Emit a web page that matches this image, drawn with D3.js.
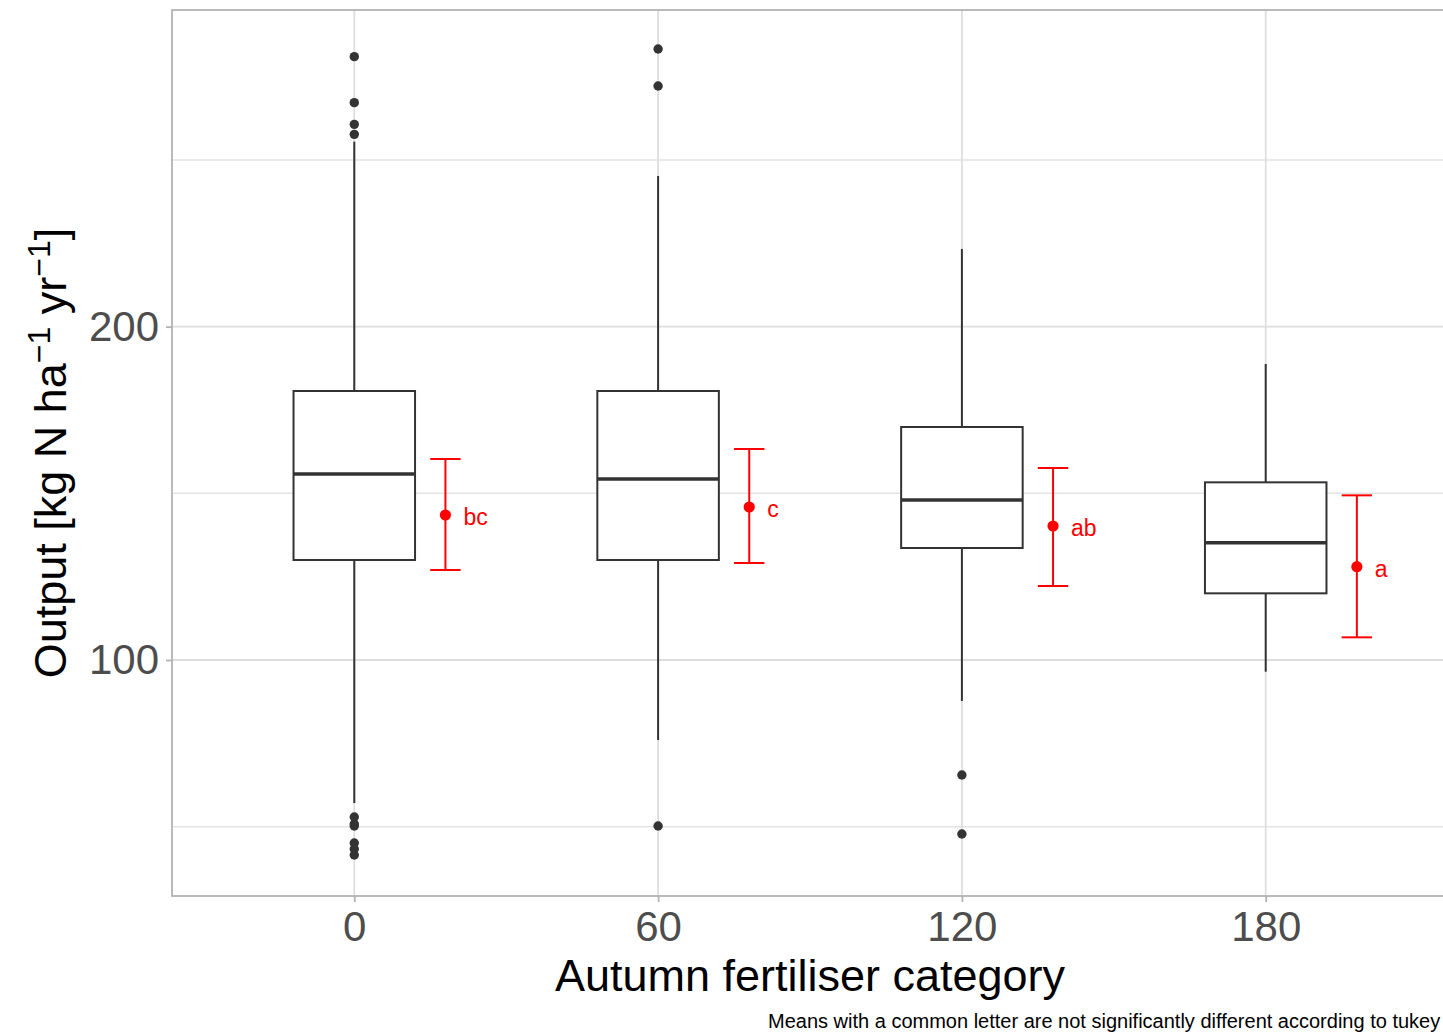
<!DOCTYPE html>
<html lang="en">
<head>
    <meta charset="UTF-8">
    <title>Autumn fertiliser boxplot</title>
    <script src="https://d3js.org/d3.v7.min.js"></script>
    <style>
        body { margin: 0; background: #fff; font-family: Arial, "Liberation Sans", sans-serif; overflow: hidden; }
    </style>
</head>
<body>
    <div id="chart"></div>
    <script>
        // Data
        const categories = ["0", "60", "120", "180"];
        const q1 = [130.0, 130.0, 133.6, 120.0];
        const median = [155.8, 154.3, 148.0, 135.2];
        const q3 = [180.7, 180.7, 169.9, 153.3];
        const whiskerLow = [57.1, 76.0, 87.7, 96.5];
        const whiskerHigh = [255.5, 245.2, 223.3, 188.8];
        const outliers = [
            [281.0, 267.2, 260.7, 257.7, 52.9, 50.8, 50.2, 45.1, 43.3, 41.5],
            [283.3, 272.2, 50.2],
            [65.5, 47.8],
            []
        ];
        const meanValues = [143.5, 145.9, 140.2, 128.0];
        const ciLow = [127.0, 129.1, 122.2, 106.8];
        const ciHigh = [160.3, 163.3, 157.6, 149.4];
        const letters = ["bc", "c", "ab", "a"];
        const yTicks = [100, 200];
        const yMinor = [50, 150, 250];

        const width = 1443, height = 1034;
        const panel = { left: 172, top: 10, right: 1448, bottom: 896 };

        const svg = d3.select("#chart").append("svg")
            .attr("width", width)
            .attr("height", height);

        const x = d3.scalePoint()
            .domain(categories)
            .range([panel.left, panel.right])
            .padding(0.6);
        const step = x.step();

        const y = d3.scaleLinear()
            .domain([29.2, 295])
            .range([panel.bottom, panel.top]);

        // grid
        const grid = svg.append("g");
        grid.selectAll(".hminor").data(yMinor).enter().append("line")
            .attr("x1", panel.left).attr("x2", panel.right)
            .attr("y1", d => y(d)).attr("y2", d => y(d))
            .attr("stroke", "#e3e3e3").attr("stroke-width", 1.5);
        grid.selectAll(".hmajor").data(yTicks).enter().append("line")
            .attr("x1", panel.left).attr("x2", panel.right)
            .attr("y1", d => y(d)).attr("y2", d => y(d))
            .attr("stroke", "#dedede").attr("stroke-width", 1.8);
        grid.selectAll(".v").data(categories).enter().append("line")
            .attr("x1", d => x(d)).attr("x2", d => x(d))
            .attr("y1", panel.top).attr("y2", panel.bottom)
            .attr("stroke", "#dedede").attr("stroke-width", 1.8);

        // boxplots
        const boxW = step * 0.4;
        const boxes = svg.append("g");
        categories.forEach((c, i) => {
            const cx = x(c);
            const g = boxes.append("g");
            g.append("line")
                .attr("x1", cx).attr("x2", cx)
                .attr("y1", y(q3[i])).attr("y2", y(whiskerHigh[i]))
                .attr("stroke", "#333").attr("stroke-width", 2);
            g.append("line")
                .attr("x1", cx).attr("x2", cx)
                .attr("y1", y(q1[i])).attr("y2", y(whiskerLow[i]))
                .attr("stroke", "#333").attr("stroke-width", 2);
            g.append("rect")
                .attr("x", cx - boxW / 2).attr("width", boxW)
                .attr("y", y(q3[i])).attr("height", y(q1[i]) - y(q3[i]))
                .attr("fill", "#fff").attr("stroke", "#333").attr("stroke-width", 2);
            g.append("line")
                .attr("x1", cx - boxW / 2).attr("x2", cx + boxW / 2)
                .attr("y1", y(median[i])).attr("y2", y(median[i]))
                .attr("stroke", "#333").attr("stroke-width", 3.5);
            g.selectAll("circle").data(outliers[i]).enter().append("circle")
                .attr("cx", cx).attr("cy", d => y(d)).attr("r", 4.7)
                .attr("fill", "#333");
        });

        // means with error bars
        const offs = step * 0.3;
        const cap = step * 0.05;
        const means = svg.append("g");
        categories.forEach((c, i) => {
            const mx = x(c) + offs;
            const g = means.append("g");
            g.append("line")
                .attr("x1", mx).attr("x2", mx)
                .attr("y1", y(ciHigh[i])).attr("y2", y(ciLow[i]))
                .attr("stroke", "red").attr("stroke-width", 2);
            [ciHigh[i], ciLow[i]].forEach(v => {
                g.append("line")
                    .attr("x1", mx - cap).attr("x2", mx + cap)
                    .attr("y1", y(v)).attr("y2", y(v))
                    .attr("stroke", "red").attr("stroke-width", 2);
            });
            g.append("circle")
                .attr("cx", mx).attr("cy", y(meanValues[i])).attr("r", 5.6)
                .attr("fill", "red");
            g.append("text")
                .attr("x", mx + 18).attr("y", y(meanValues[i]) + 2)
                .attr("dy", "0.35em")
                .attr("fill", "red")
                .style("font-size", "23px")
                .text(letters[i]);
        });

        // panel border
        svg.append("rect")
            .attr("x", panel.left).attr("y", panel.top)
            .attr("width", panel.right - panel.left).attr("height", panel.bottom - panel.top)
            .attr("fill", "none").attr("stroke", "#b3b3b3").attr("stroke-width", 1.8);

        // axes
        const yAxis = svg.append("g")
            .attr("transform", `translate(${panel.left},0)`)
            .call(d3.axisLeft(y).tickValues(yTicks).tickSize(6).tickPadding(7));
        const xAxis = svg.append("g")
            .attr("transform", `translate(0,${panel.bottom})`)
            .call(d3.axisBottom(x).tickSize(6).tickPadding(9));
        [yAxis, xAxis].forEach(a => {
            a.select(".domain").remove();
            a.selectAll(".tick line").attr("stroke", "#b3b3b3").attr("stroke-width", 1.8);
            a.selectAll(".tick text")
                .attr("fill", "#4d4d4d")
                .style("font-family", "Arial, 'Liberation Sans', sans-serif")
                .style("font-size", "42px");
        });

        // axis titles
        svg.append("text")
            .attr("x", (panel.left + panel.right) / 2)
            .attr("y", 991)
            .attr("text-anchor", "middle")
            .style("font-size", "45px")
            .text("Autumn fertiliser category");

        const yTitle = svg.append("text")
            .attr("transform", `translate(66,${(panel.top + panel.bottom) / 2}) rotate(-90)`)
            .attr("text-anchor", "middle")
            .style("font-size", "45px");
        yTitle.append("tspan").text("Output [kg N ha");
        yTitle.append("tspan").attr("dy", -16).style("font-size", "32px").text("\u22121");
        yTitle.append("tspan").attr("dy", 16).text(" yr");
        yTitle.append("tspan").attr("dy", -16).style("font-size", "32px").text("\u22121");
        yTitle.append("tspan").attr("dy", 16).text("]");

        // caption
        svg.append("text")
            .attr("x", 768)
            .attr("y", 1028)
            .style("font-size", "20px")
            .text("Means with a common letter are not significantly different according to tukey");
    </script>
</body>
</html>
